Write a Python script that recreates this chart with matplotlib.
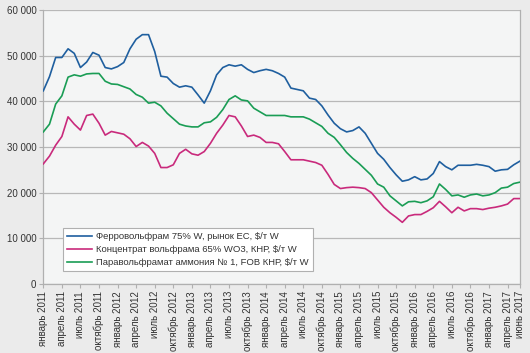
import matplotlib
matplotlib.use("Agg")
import matplotlib.pyplot as plt
import numpy as np

# Monthly data, January 2011 .. June 2017 (78 months)
ferro = [42300, 45400, 49600, 49600, 51500, 50500, 47400, 48600, 50700, 50100,
         47400, 47100, 47600, 48500, 51500, 53600, 54600, 54600, 50900, 45500,
         45300, 43900, 43100, 43400, 43100, 41400, 39600, 42300, 45800, 47400,
         48000, 47700, 48000, 47000, 46300, 46700, 47000, 46700, 46100, 45300,
         42900, 42600, 42300, 40700, 40400, 39000, 37000, 35200, 34000, 33300,
         33600, 34400, 33000, 30800, 28600, 27300, 25500, 23900, 22500, 22800,
         23500, 22800, 23000, 24200, 26800, 25700, 25000, 26000, 26000, 26000,
         26200, 26000, 25700, 24700, 25000, 25100, 26100, 26900]

conc = [26300, 28000, 30400, 32300, 36600, 35000, 33700, 36900, 37200, 35200,
        32600, 33400, 33100, 32800, 31800, 30100, 31000, 30200, 28600, 25500,
        25500, 26100, 28600, 29500, 28500, 28200, 29000, 30800, 33000, 34800,
        36900, 36600, 34600, 32300, 32600, 32100, 31000, 31000, 30700, 29000,
        27200, 27200, 27200, 26900, 26600, 26000, 24000, 21800, 20900, 21100,
        21200, 21100, 20900, 20000, 18400, 16800, 15600, 14600, 13500, 14900,
        15200, 15200, 15900, 16700, 18100, 16900, 15600, 16800, 16000, 16500,
        16500, 16300, 16600, 16800, 17100, 17500, 18700, 18700]

apt = [33300, 35000, 39400, 41200, 45300, 45800, 45500, 46000, 46100, 46100,
       44400, 43800, 43700, 43200, 42700, 41500, 40900, 39600, 39800, 39000,
       37400, 36200, 35000, 34600, 34400, 34400, 35300, 35500, 36500, 38200,
       40400, 41200, 40300, 40100, 38500, 37700, 36900, 36900, 36900, 36900,
       36600, 36600, 36600, 36100, 35300, 34500, 33000, 32100, 30500, 28800,
       27500, 26400, 25100, 23800, 21900, 21200, 19300, 18200, 17100, 18000,
       18100, 17800, 18200, 19100, 21900, 20700, 19300, 19500, 19000, 19500,
       19700, 19300, 19500, 20000, 21000, 21200, 22000, 22300]

series_labels = ["Ферровольфрам 75% W, рынок ЕС, $/т W",
                 "Концентрат вольфрама 65% WO3, КНР, $/т W",
                 "Паравольфрамат аммония № 1, FOB КНР, $/т W"]

tick_months = list(range(0, 76, 3)) + [77]
tick_labels = ["январь 2011", "апрель 2011", "июль 2011", "октябрь 2011",
               "январь 2012", "апрель 2012", "июль 2012", "октябрь 2012",
               "январь 2013", "апрель 2013", "июль 2013", "октябрь 2013",
               "январь 2014", "апрель 2014", "июль 2014", "октябрь 2014",
               "январь 2015", "апрель 2015", "июль 2015", "октябрь 2015",
               "январь 2016", "апрель 2016", "июль 2016", "октябрь 2016",
               "январь 2017", "апрель 2017", "июнь 2017"]

y_ticks = [0, 10000, 20000, 30000, 40000, 50000, 60000]
y_tick_labels = ["0", "10 000", "20 000", "30 000", "40 000", "50 000", "60 000"]

plt.rcParams['font.family'] = ['Liberation Sans', 'DejaVu Sans']

fig = plt.figure(figsize=(5.30, 3.53), dpi=100, facecolor='#ebebeb')
ax = fig.add_axes([0.0817, 0.1955, 0.8993, 0.7762])
ax.set_facecolor('#f4f5f5')

x = np.arange(len(ferro))
colors = ['#1f5f9f', '#c92a7c', '#1a9d55']
for data, lab, c in zip([ferro, conc, apt], series_labels, colors):
    ax.plot(x, data, color=c, lw=1.2, label=lab, zorder=3)

ax.set_xlim(0, 77)
ax.set_ylim(0, 60000)
ax.set_yticks(y_ticks)
ax.set_yticklabels(y_tick_labels)
ax.set_xticks(tick_months)
ax.set_xticklabels(tick_labels, rotation=90)

ax.grid(axis='y', color='#b8b8b8', lw=0.9, zorder=1)
ax.grid(axis='x', visible=False)
for side in ['left', 'right', 'bottom', 'top']:
    ax.spines[side].set_color('#b0b0b0')
    ax.spines[side].set_linewidth(0.9)
ax.spines['top'].set_visible(False)

ax.tick_params(axis='both', colors='#b0b0b0', labelcolor='#333333',
               labelsize=7, length=3, width=0.8, pad=2)

leg = ax.legend(loc='lower left', bbox_to_anchor=(0.041, 0.047),
                borderaxespad=0, prop={'size': 6.8}, frameon=True, fancybox=False,
                edgecolor='#b0b0b0', facecolor='white', framealpha=1,
                handlelength=2.6, handletextpad=0.5, labelspacing=0.4,
                borderpad=0.45)
leg.get_frame().set_linewidth(0.8)
for t in leg.get_texts():
    t.set_color('#333333')

fig.savefig('out.png', dpi=100, facecolor=fig.get_facecolor())
